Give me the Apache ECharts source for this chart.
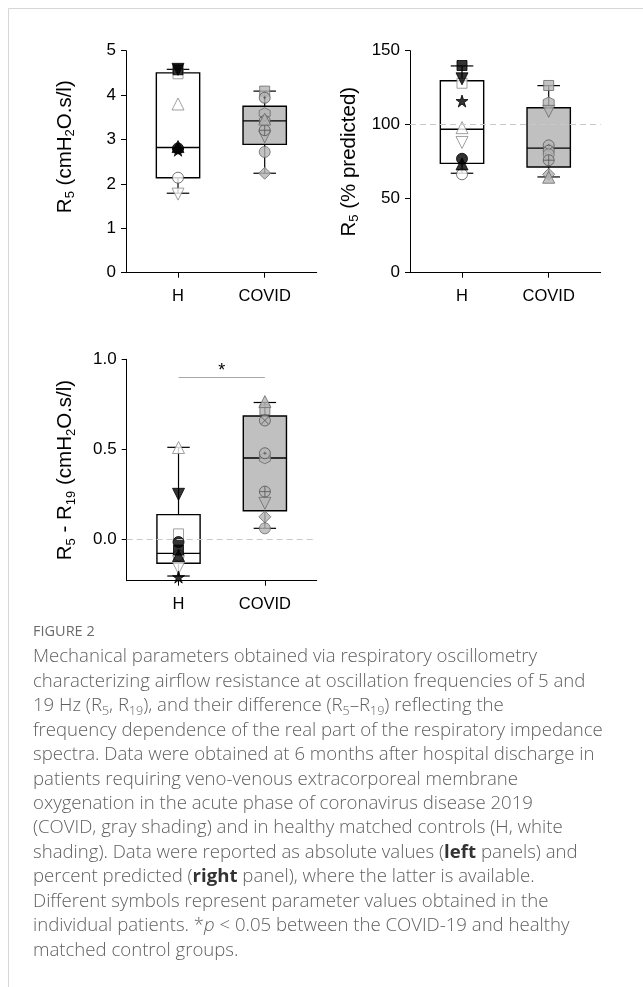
<!DOCTYPE html>
<html>
<head>
<meta charset="utf-8">
<script src="https://cdn.jsdelivr.net/npm/echarts@6/dist/echarts.min.js"></script>
<style>
  html, body { margin: 0; padding: 0; background: #fff; }
  #fig { width: 643px; height: 987px; }
</style>
</head>
<body>
<div id="fig"></div>
<script>
// groups on the x axis (H at 1, COVID at 2)
var categories = ['H', 'COVID'];

// one marker per patient, same patient order in every panel
var hMarkers = ['openCircle', 'openSquare', 'openUpTri', 'openDownTri', 'filledSquare', 'filledDownTri', 'filledStar', 'filledCircle', 'filledUpTri'];
var covidMarkers = ['square', 'hexagon', 'downTri', 'circleDot', 'circleX', 'circle', 'circleCross', 'diamond', 'upTri'];

// R5 (cmH2O.s/l)
var r5H = [2.14, 4.48, 3.80, 1.77, 4.57, 4.58, 2.76, 2.80, 2.84];
var r5Covid = [4.09, 3.59, 3.06, 3.94, 3.42, 2.72, 3.21, 2.24, 3.46];
// box: [min, q1, median, q3, max]
var r5HBox = [1.79, 2.14, 2.82, 4.50, 4.58];
var r5CovidBox = [2.24, 2.89, 3.42, 3.75, 4.09];

// R5 (% predicted)
var r5pH = [66.5, 128, 98, 88, 140, 131, 116, 77, 73.5];
var r5pCovid = [126.5, 115, 109, 86, 82.5, 80, 76, 66.5, 64.5];
var r5pHBox = [67.2, 73.9, 96.9, 129.7, 139.7];
var r5pCovidBox = [64.7, 71.4, 84.2, 111.5, 126.4];

// R5 - R19 (cmH2O.s/l)
var dRH = [-0.09, 0.03, 0.51, -0.16, -0.06, 0.25, -0.21, -0.015, -0.09];
var dRCovid = [0.72, 0.45, 0.20, 0.478, 0.66, 0.061, 0.265, 0.125, 0.765];
var dRHBox = [-0.204, -0.133, -0.078, 0.137, 0.511];
var dRCovidBox = [0.061, 0.159, 0.452, 0.685, 0.76];

// significance bar between groups
var sigFrom = 1, sigTo = 2, sigLevel = 0.9;

var r5Ticks = [0, 1, 2, 3, 4, 5];
var r5pTicks = [0, 50, 100, 150];
var dRTicks = [0, 0.5, 1.0];

var captionLines = [
  'Mechanical parameters obtained via respiratory oscillometry',
  'characterizing airflow resistance at oscillation frequencies of 5 and',
  '19 Hz (R{s|5}, R{s|19}), and their difference (R{s|5}\u2013R{s|19}) reflecting the',
  'frequency dependence of the real part of the respiratory impedance',
  'spectra. Data were obtained at 6 months after hospital discharge in',
  'patients requiring veno-venous extracorporeal membrane',
  'oxygenation in the acute phase of coronavirus disease 2019',
  '(COVID, gray shading) and in healthy matched controls (H, white',
  'shading). Data were reported as absolute values ({b|left} panels) and',
  'percent predicted ({b|right} panel), where the latter is available.',
  'Different symbols represent parameter values obtained in the',
  'individual patients. *{i|p} < 0.05 between the COVID-19 and healthy',
  'matched control groups.'
];

var FONT = '"Liberation Sans", Arial, sans-serif';
var CAP_FONT = '"Open Sans", "Noto Sans", sans-serif';
var CAP_SIZE = 18.6;
var CAP_COLOR = '#5f5f5f';
var BOX_WIDTH = 0.5;
var CAP_WIDTH = 0.26;

var CIRCLE = 'M0,5A5,5 0 1,0 10,5A5,5 0 1,0 0,5Z';
var SHAPES = {
  circle: 'circle',
  square: 'rect',
  upTri: 'triangle',
  downTri: 'path://M0,0L10,0L5,9Z',
  diamond: 'diamond',
  star: 'path://M5,0L6.2,3.6L10,3.6L6.9,5.8L8.1,9.5L5,7.2L1.9,9.5L3.1,5.8L0,3.6L3.8,3.6Z',
  hexagon: 'path://M5,0L9.3,2.5L9.3,7.5L5,10L0.7,7.5L0.7,2.5Z',
  circleCross: 'path://' + CIRCLE + 'M5,0L5,10M0,5L10,5',
  circleX: 'path://' + CIRCLE + 'M1.5,1.5L8.5,8.5M8.5,1.5L1.5,8.5',
  circleDot: 'path://' + CIRCLE + 'M5,3.6L5,6.4M3.6,5L6.4,5'
};

var MARKERS = {
  filledSquare: { shape: 'square', fill: '#000', stroke: '#000', size: 10 },
  filledDownTri: { shape: 'downTri', fill: '#000', stroke: '#000', size: 12 },
  filledUpTri: { shape: 'upTri', fill: '#000', stroke: '#000', size: 12 },
  filledStar: { shape: 'star', fill: '#000', stroke: '#000', size: 12 },
  filledCircle: { shape: 'circle', fill: '#000', stroke: '#000', size: 11 },
  openSquare: { shape: 'square', fill: '#fff', stroke: '#888', size: 10 },
  openUpTri: { shape: 'upTri', fill: '#fff', stroke: '#888', size: 12 },
  openDownTri: { shape: 'downTri', fill: '#fff', stroke: '#888', size: 12 },
  openCircle: { shape: 'circle', fill: '#fff', stroke: '#555', size: 11 },
  square: { shape: 'square', fill: '#b4b4b4', stroke: '#6a6a6a', size: 10 },
  hexagon: { shape: 'hexagon', fill: '#b4b4b4', stroke: '#6a6a6a', size: 11 },
  downTri: { shape: 'downTri', fill: '#b4b4b4', stroke: '#6a6a6a', size: 12 },
  circleDot: { shape: 'circleDot', fill: '#b4b4b4', stroke: '#555', size: 11 },
  circleX: { shape: 'circleX', fill: '#b4b4b4', stroke: '#555', size: 11 },
  circle: { shape: 'circle', fill: '#b4b4b4', stroke: '#6a6a6a', size: 11 },
  circleCross: { shape: 'circleCross', fill: '#b4b4b4', stroke: '#555', size: 11 },
  diamond: { shape: 'diamond', fill: '#b4b4b4', stroke: '#6a6a6a', size: 12 },
  upTri: { shape: 'upTri', fill: '#b4b4b4', stroke: '#6a6a6a', size: 12 }
};

var BOX_FILLS = ['#ffffff', '#c0c0c0'];

function pointItems(xPos, values, markers) {
  return values.map(function (v, i) {
    var m = MARKERS[markers[i]];
    return {
      value: [xPos, v],
      symbol: SHAPES[m.shape],
      symbolSize: m.size,
      itemStyle: { color: m.fill, borderColor: m.stroke, borderWidth: 1 }
    };
  });
}

function renderBox(params, api) {
  var x = api.value(0);
  var lo = api.coord([x, api.value(1)]);
  var q1 = api.coord([x, api.value(2)]);
  var med = api.coord([x, api.value(3)]);
  var q3 = api.coord([x, api.value(4)]);
  var hi = api.coord([x, api.value(5)]);
  var bw = api.size([BOX_WIDTH, 0])[0];
  var cw = api.size([CAP_WIDTH, 0])[0];
  var cx = lo[0];
  var ink = { stroke: '#000', lineWidth: 1.2 };
  return {
    type: 'group',
    children: [
      { type: 'line', shape: { x1: cx, y1: q3[1], x2: cx, y2: hi[1] }, style: ink },
      { type: 'line', shape: { x1: cx, y1: q1[1], x2: cx, y2: lo[1] }, style: ink },
      { type: 'line', shape: { x1: cx - cw / 2, y1: hi[1], x2: cx + cw / 2, y2: hi[1] }, style: ink },
      { type: 'line', shape: { x1: cx - cw / 2, y1: lo[1], x2: cx + cw / 2, y2: lo[1] }, style: ink },
      {
        type: 'rect',
        shape: { x: cx - bw / 2, y: q3[1], width: bw, height: q1[1] - q3[1] },
        style: { fill: BOX_FILLS[params.dataIndex], stroke: '#000', lineWidth: 1.4 }
      },
      { type: 'line', shape: { x1: cx - bw / 2, y1: med[1], x2: cx + bw / 2, y2: med[1] }, style: { stroke: '#000', lineWidth: 1.4 } }
    ]
  };
}

function boxSeries(idx, hBox, covidBox) {
  return {
    type: 'custom',
    xAxisIndex: idx,
    yAxisIndex: idx,
    renderItem: renderBox,
    encode: { x: 0, y: [1, 2, 3, 4, 5] },
    data: [[1].concat(hBox), [2].concat(covidBox)],
    z: 2,
    silent: true
  };
}

function pointSeries(idx, hVals, covidVals) {
  return {
    type: 'scatter',
    xAxisIndex: idx,
    yAxisIndex: idx,
    data: pointItems(1, hVals, hMarkers).concat(pointItems(2, covidVals, covidMarkers)),
    z: 3,
    silent: true
  };
}

// empty series carrying reference lines, drawn under the boxes
function lineSeries(idx, lines, z) {
  return {
    type: 'scatter',
    xAxisIndex: idx,
    yAxisIndex: idx,
    data: [],
    z: z,
    silent: true,
    markLine: {
      silent: true,
      symbol: ['none', 'none'],
      animation: false,
      label: { show: false },
      lineStyle: { type: [6, 4], color: '#c8c8c8', width: 1 },
      data: lines
    }
  };
}

function xAxisFor(idx) {
  return {
    type: 'value',
    gridIndex: idx,
    min: 0.4,
    max: 2.6,
    axisLine: { onZero: false, lineStyle: { color: '#000', width: 1 } },
    axisTick: { customValues: [1, 2], length: 5, lineStyle: { color: '#000' } },
    axisLabel: {
      customValues: [1, 2],
      margin: 15,
      fontSize: 16.5,
      fontFamily: FONT,
      color: '#000',
      formatter: function (v) { return categories[Math.round(v) - 1]; }
    },
    splitLine: { show: false }
  };
}

function yAxisFor(idx, min, max, ticks, name, namePad, digits) {
  return {
    type: 'value',
    gridIndex: idx,
    min: min,
    max: max,
    name: name,
    nameLocation: 'middle',
    nameGap: 49,
    nameTextStyle: {
      fontSize: 20.5,
      fontFamily: FONT,
      color: '#000',
      padding: namePad,
      lineHeight: 24,
      rich: {
        s: { fontSize: 13, fontFamily: FONT, color: '#000', lineHeight: 14, verticalAlign: 'bottom' }
      }
    },
    axisLine: { show: true, onZero: false, lineStyle: { color: '#000', width: 1 } },
    axisTick: { show: true, customValues: ticks, length: 5, lineStyle: { color: '#000' } },
    axisLabel: {
      customValues: ticks,
      margin: 10,
      fontSize: 17,
      fontFamily: FONT,
      color: '#000',
      formatter: function (v) { return v.toFixed(digits); }
    },
    splitLine: { show: false }
  };
}

var graphics = [
  {
    type: 'polyline',
    shape: { points: [[643, 8.5], [8.5, 8.5], [8.5, 987]] },
    style: { fill: null, stroke: '#d6d6d6', lineWidth: 1 },
    silent: true
  },
  {
    type: 'text',
    x: 33,
    y: 632,
    style: { text: 'FIGURE 2', fontSize: 14.5, fontFamily: CAP_FONT, fill: '#6b6b6b', verticalAlign: 'middle' }
  }
];

captionLines.forEach(function (line, i) {
  graphics.push({
    type: 'text',
    x: 33,
    y: 657 + i * 24.45,
    style: {
      text: line,
      fontSize: CAP_SIZE,
      fontFamily: CAP_FONT,
      fontWeight: 300,
      fill: CAP_COLOR,
      verticalAlign: 'middle',
      lineHeight: 24,
      rich: {
        s: { fontSize: 12.5, fontFamily: CAP_FONT, fontWeight: 300, fill: CAP_COLOR, lineHeight: 17, verticalAlign: 'bottom' },
        b: { fontSize: CAP_SIZE, fontFamily: CAP_FONT, fill: '#333', fontWeight: 'bold', lineHeight: 24 },
        i: { fontSize: CAP_SIZE, fontFamily: CAP_FONT, fontWeight: 300, fill: CAP_COLOR, fontStyle: 'italic', lineHeight: 24 }
      }
    }
  });
});

var chart = echarts.init(document.getElementById('fig'), null, { renderer: 'canvas' });

chart.setOption({
  animation: false,
  backgroundColor: '#fff',
  grid: [
    { left: 126, top: 50.7, width: 190.7, height: 222 },
    { left: 410, top: 50.7, width: 190.7, height: 222 },
    { left: 126.7, top: 359.3, width: 190, height: 221.4 }
  ],
  xAxis: [xAxisFor(0), xAxisFor(1), xAxisFor(2)],
  yAxis: [
    yAxisFor(0, 0, 5, r5Ticks, 'R{s|5} (cmH{s|2}O.s/l)', [0, 0, 0, 30], 0),
    yAxisFor(1, 0, 150, r5pTicks, 'R{s|5} (% predicted)', [0, 0, 0, 0], 0),
    yAxisFor(2, -0.23, 1.0, dRTicks, 'R{s|5} - R{s|19} (cmH{s|2}O.s/l)', [0, 0, 0, 0], 1)
  ],
  series: [
    lineSeries(1, [{ yAxis: 100 }], 1),
    lineSeries(2, [{ yAxis: 0 }], 1),
    boxSeries(0, r5HBox, r5CovidBox),
    pointSeries(0, r5H, r5Covid),
    boxSeries(1, r5pHBox, r5pCovidBox),
    pointSeries(1, r5pH, r5pCovid),
    boxSeries(2, dRHBox, dRCovidBox),
    pointSeries(2, dRH, dRCovid),
    {
      type: 'scatter',
      xAxisIndex: 2,
      yAxisIndex: 2,
      data: [],
      z: 4,
      silent: true,
      markLine: {
        silent: true,
        symbol: ['none', 'none'],
        animation: false,
        lineStyle: { type: 'solid', color: '#a8a8a8', width: 1 },
        label: { show: true, position: 'middle', formatter: '*', fontSize: 18, fontFamily: FONT, color: '#000', distance: -3 },
        data: [[{ coord: [sigFrom, sigLevel] }, { coord: [sigTo, sigLevel] }]]
      }
    }
  ],
  graphic: graphics
});
</script>
</body>
</html>
